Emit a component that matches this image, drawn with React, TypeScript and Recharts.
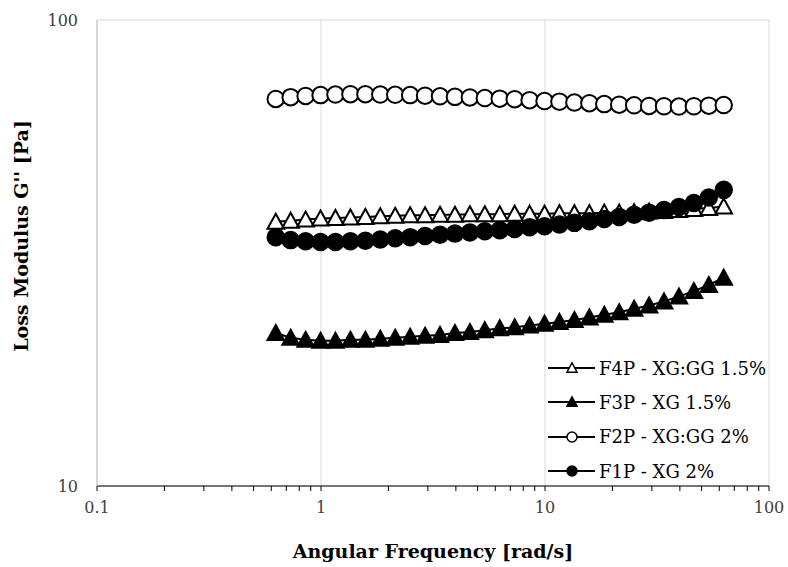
import { LineChart, Line, XAxis, YAxis, CartesianGrid, ReferenceLine, Label } from 'recharts';

// angular frequency [rad/s]
const freq = [
  0.628, 0.7322, 0.8537, 0.9953, 1.16, 1.353, 1.578, 1.839, 2.144, 2.5, 2.915,
  3.399, 3.962, 4.62, 5.386, 6.28, 7.322, 8.537, 9.953, 11.6, 13.53, 15.78,
  18.39, 21.44, 25.0, 29.15, 33.99, 39.62, 46.2, 53.86, 62.8,
];

// loss modulus G'' [Pa]
const f4p = [
  36.9, 37.1, 37.3, 37.5, 37.6, 37.7, 37.8, 37.9, 38.0, 38.1, 38.1, 38.2, 38.2,
  38.3, 38.3, 38.3, 38.4, 38.4, 38.4, 38.5, 38.5, 38.5, 38.6, 38.6, 38.7, 38.8,
  38.9, 39.1, 39.3, 39.5, 39.8,
];
const f3p = [
  21.3, 20.8, 20.6, 20.5, 20.5, 20.6, 20.6, 20.7, 20.8, 20.9, 21.0, 21.1, 21.3,
  21.4, 21.6, 21.8, 21.9, 22.1, 22.3, 22.5, 22.7, 23.0, 23.3, 23.6, 24.0, 24.4,
  24.9, 25.5, 26.2, 27.0, 28.0,
];
const f2p = [
  67.7, 68.3, 68.7, 69.0, 69.2, 69.3, 69.3, 69.2, 69.1, 69.0, 68.8, 68.6, 68.4,
  68.2, 68.0, 67.8, 67.6, 67.3, 67.0, 66.8, 66.5, 66.3, 66.0, 65.8, 65.6, 65.4,
  65.3, 65.2, 65.3, 65.5, 65.7,
];
const f1p = [
  34.2, 33.7, 33.5, 33.4, 33.4, 33.5, 33.6, 33.8, 34.0, 34.2, 34.4, 34.6, 34.8,
  35.0, 35.2, 35.4, 35.6, 35.9, 36.1, 36.4, 36.7, 37.0, 37.4, 37.8, 38.2, 38.6,
  39.1, 39.7, 40.5, 41.6, 43.2,
];

const seriesNames = ['F4P - XG:GG 1.5%', 'F3P - XG 1.5%', 'F2P - XG:GG 2%', 'F1P - XG 2%'];

const xTicks = [
  0.1, 0.2, 0.3, 0.4, 0.5, 0.6, 0.7, 0.8, 0.9,
  1, 2, 3, 4, 5, 6, 7, 8, 9,
  10, 20, 30, 40, 50, 60, 70, 80, 90, 100,
];
const xLabels = [0.1, 1, 10, 100];
const yTicks = [10, 100];

const data = freq.map((w, i) => ({ w, f4p: f4p[i], f3p: f3p[i], f2p: f2p[i], f1p: f1p[i] }));

const FONT = '"DejaVu Serif", serif';
const GRID = '#d9d9d9';

type Kind = 'triOpen' | 'triFilled' | 'circOpen' | 'circFilled';
const kinds: Kind[] = ['triOpen', 'triFilled', 'circOpen', 'circFilled'];

function marker(kind: Kind, cx: number, cy: number, s: number, sw: number, key?: string) {
  const fill = kind === 'triOpen' || kind === 'circOpen' ? '#fff' : '#000';
  if (kind === 'triOpen' || kind === 'triFilled') {
    const h = s * 0.85;
    const pts = `${cx},${cy - h / 2 - 1} ${cx + s / 2},${cy + h / 2} ${cx - s / 2},${cy + h / 2}`;
    return <polygon key={key} points={pts} fill={fill} stroke="#000" strokeWidth={sw} />;
  }
  return <circle key={key} cx={cx} cy={cy} r={s / 2} fill={fill} stroke="#000" strokeWidth={sw} />;
}

const makeDot = (kind: Kind) => (p: any) => marker(kind, p.cx, p.cy, 16.5, 2, `${kind}-${p.index}`);

const XTick = ({ x, y, payload }: any) =>
  xLabels.includes(payload.value) ? (
    <text x={x} y={y} dy="0.71em" textAnchor="middle" fontFamily={FONT} fontSize={16} fill="#404040">
      {payload.value}
    </text>
  ) : (
    <g />
  );

// legend sits inside the plot, lower right, listed in draw order
const LegendBox = () => (
  <div
    style={{
      position: 'absolute',
      left: 548,
      top: 351,
      fontFamily: FONT,
      fontSize: 18,
      color: '#000',
    }}
  >
    {seriesNames.map((name, i) => (
      <div key={name} style={{ display: 'flex', alignItems: 'center', height: 34.3 }}>
        <svg width={50} height={20} style={{ marginRight: 1 }}>
          <line x1={0} y1={10} x2={47} y2={10} stroke="#000" strokeWidth={2} />
          {marker(kinds[i], 24, 10, 10, 1.5)}
        </svg>
        <span style={{ whiteSpace: 'nowrap' }}>{name}</span>
      </div>
    ))}
  </div>
);

export default function App() {
  return (
    <div style={{ position: 'relative', width: 788, height: 567 }}>
      <style>{'body{margin:0;background:#fff}'}</style>
      <LineChart
        width={788}
        height={567}
        data={data}
        margin={{ top: 20, right: 19, bottom: 21, left: 0 }}
      >
        <CartesianGrid vertical={false} stroke={GRID} strokeWidth={1} />
        {xLabels.map((v) => (
          <ReferenceLine key={v} x={v} stroke={GRID} strokeWidth={1} />
        ))}
        <XAxis
          dataKey="w"
          type="number"
          scale="log"
          domain={[0.1, 100]}
          ticks={xTicks}
          allowDataOverflow
          interval={0}
          height={60}
          stroke="#000"
          tickSize={5}
          tickMargin={11}
          tick={<XTick />}
        >
          <Label
            content={({ viewBox }: any) => (
              <text
                x={viewBox.x + viewBox.width / 2}
                y={551}
                textAnchor="middle"
                dominantBaseline="central"
                fontFamily={FONT}
                fontWeight="bold"
                fontSize={19}
                fill="#000"
              >
                Angular Frequency [rad/s]
              </text>
            )}
          />
        </XAxis>
        <YAxis
          type="number"
          scale="log"
          domain={[10, 100]}
          ticks={yTicks}
          allowDataOverflow
          width={97}
          stroke="#bfbfbf"
          tickLine={false}
          tickSize={0}
          tickMargin={19}
          tick={{ fontFamily: FONT, fontSize: 16, fill: '#404040' }}
        >
          <Label
            content={() => (
              <text
                x={21}
                y={236}
                transform="rotate(-90 21 236)"
                textAnchor="middle"
                dominantBaseline="central"
                fontFamily={FONT}
                fontWeight="bold"
                fontSize={19}
                fill="#000"
              >
                {"Loss Modulus G'' [Pa]"}
              </text>
            )}
          />
        </YAxis>
        <Line dataKey="f4p" name={seriesNames[0]} stroke="#000" strokeWidth={2} dot={makeDot('triOpen')} isAnimationActive={false} />
        <Line dataKey="f3p" name={seriesNames[1]} stroke="#000" strokeWidth={2} dot={makeDot('triFilled')} isAnimationActive={false} />
        <Line dataKey="f2p" name={seriesNames[2]} stroke="#000" strokeWidth={2} dot={makeDot('circOpen')} isAnimationActive={false} />
        <Line dataKey="f1p" name={seriesNames[3]} stroke="#000" strokeWidth={2} dot={makeDot('circFilled')} isAnimationActive={false} />
      </LineChart>
      <LegendBox />
    </div>
  );
}
